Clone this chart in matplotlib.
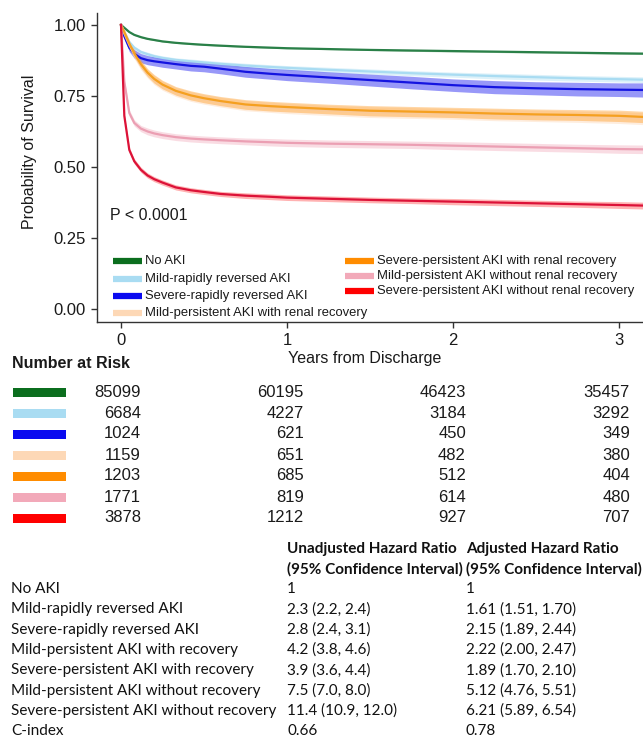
import matplotlib
matplotlib.use('Agg')
import matplotlib.pyplot as plt
from matplotlib.lines import Line2D
from matplotlib.patches import Rectangle

plt.rcParams['font.family'] = ['Liberation Sans', 'DejaVu Sans']

# ---------------- data ----------------
groups = ["No AKI", "Mild-rapidly reversed AKI", "Severe-rapidly reversed AKI",
          "Mild-persistent AKI with renal recovery", "Severe-persistent AKI with renal recovery",
          "Mild-persistent AKI without renal recovery", "Severe-persistent AKI without renal recovery"]
colors = ["#0b6e1e", "#a9dcf2", "#0a0af0", "#fdd8b6", "#ff8c00", "#f2a9b9", "#ff0000"]
line_colors = ["#2a8048", "#a9dcf2", "#1414e0", "#f9c99a", "#f5a020", "#eb9fb3", "#dc1238"]

years = [0, 0.02, 0.05, 0.08, 0.12, 0.16, 0.2, 0.25, 0.33, 0.42, 0.5, 0.6, 0.75, 0.9,
         1.0, 1.25, 1.5, 1.75, 2.0, 2.25, 2.5, 2.75, 3.0, 3.15]

surv_no_aki = [1.0, 0.99, 0.975, 0.965, 0.957, 0.951, 0.947, 0.942, 0.937, 0.933, 0.930, 0.927,
               0.923, 0.920, 0.918, 0.915, 0.912, 0.910, 0.908, 0.906, 0.904, 0.902, 0.900, 0.899]
surv_mild_rapid = [1.0, 0.975, 0.940, 0.920, 0.905, 0.897, 0.890, 0.884, 0.877, 0.872, 0.868, 0.863,
                   0.857, 0.852, 0.849, 0.842, 0.836, 0.830, 0.825, 0.820, 0.816, 0.812, 0.809, 0.807]
surv_severe_rapid = [1.0, 0.960, 0.920, 0.898, 0.883, 0.876, 0.872, 0.868, 0.862, 0.856, 0.853, 0.846,
                     0.835, 0.828, 0.824, 0.815, 0.806, 0.797, 0.788, 0.781, 0.777, 0.774, 0.772, 0.771]
surv_mild_pers_rec = [1.0, 0.970, 0.930, 0.895, 0.857, 0.828, 0.806, 0.786, 0.764, 0.748, 0.738, 0.728,
                      0.716, 0.710, 0.706, 0.699, 0.693, 0.690, 0.687, 0.683, 0.680, 0.677, 0.674, 0.670]
surv_severe_pers_rec = [1.0, 0.975, 0.935, 0.900, 0.862, 0.832, 0.810, 0.790, 0.768, 0.752, 0.742, 0.732,
                        0.720, 0.714, 0.711, 0.704, 0.698, 0.695, 0.692, 0.688, 0.685, 0.683, 0.680, 0.676]
surv_mild_pers_norec = [1.0, 0.800, 0.690, 0.655, 0.635, 0.625, 0.618, 0.612, 0.605, 0.600, 0.597, 0.594,
                        0.590, 0.587, 0.585, 0.582, 0.580, 0.578, 0.575, 0.572, 0.569, 0.566, 0.563, 0.562]
surv_severe_pers_norec = [1.0, 0.680, 0.560, 0.520, 0.490, 0.470, 0.457, 0.445, 0.428, 0.418, 0.412, 0.405,
                          0.399, 0.395, 0.392, 0.388, 0.384, 0.381, 0.378, 0.375, 0.372, 0.369, 0.366, 0.364]

ci_no_aki = [0.0, 0.001, 0.002, 0.002, 0.002, 0.002, 0.002, 0.002, 0.002, 0.002, 0.002, 0.002,
             0.002, 0.002, 0.002, 0.002, 0.002, 0.003, 0.003, 0.003, 0.003, 0.003, 0.003, 0.003]
ci_mild_rapid = [0.0, 0.004, 0.005, 0.006, 0.006, 0.007, 0.007, 0.007, 0.007, 0.008, 0.008, 0.008,
                 0.008, 0.008, 0.008, 0.009, 0.009, 0.009, 0.009, 0.010, 0.010, 0.010, 0.010, 0.010]
ci_severe_rapid = [0.0, 0.010, 0.014, 0.015, 0.016, 0.016, 0.016, 0.017, 0.017, 0.018, 0.018, 0.018,
                   0.019, 0.019, 0.020, 0.020, 0.021, 0.022, 0.022, 0.023, 0.023, 0.024, 0.024, 0.025]
ci_mild_pers_rec = [0.0, 0.008, 0.012, 0.014, 0.015, 0.015, 0.016, 0.016, 0.016, 0.017, 0.017, 0.017,
                    0.018, 0.018, 0.018, 0.018, 0.019, 0.019, 0.019, 0.020, 0.020, 0.020, 0.021, 0.021]
ci_severe_pers_rec = [0.0, 0.008, 0.011, 0.013, 0.014, 0.014, 0.015, 0.015, 0.015, 0.016, 0.016, 0.016,
                      0.017, 0.017, 0.017, 0.017, 0.018, 0.018, 0.018, 0.019, 0.019, 0.019, 0.020, 0.020]
ci_mild_pers_norec = [0.0, 0.010, 0.011, 0.011, 0.011, 0.012, 0.012, 0.012, 0.012, 0.012, 0.012, 0.012,
                      0.012, 0.013, 0.013, 0.013, 0.013, 0.013, 0.014, 0.014, 0.014, 0.014, 0.015, 0.015]
ci_severe_pers_norec = [0.0, 0.008, 0.009, 0.009, 0.009, 0.009, 0.009, 0.009, 0.009, 0.009, 0.009, 0.009,
                        0.010, 0.010, 0.010, 0.010, 0.010, 0.010, 0.011, 0.011, 0.011, 0.011, 0.012, 0.012]

survival = [surv_no_aki, surv_mild_rapid, surv_severe_rapid, surv_mild_pers_rec,
            surv_severe_pers_rec, surv_mild_pers_norec, surv_severe_pers_norec]
ci_half = [ci_no_aki, ci_mild_rapid, ci_severe_rapid, ci_mild_pers_rec,
           ci_severe_pers_rec, ci_mild_pers_norec, ci_severe_pers_norec]
band_alpha = [0.35, 0.4, 0.42, 0.45, 0.35, 0.4, 0.3]

risk_times = ["0", "1", "2", "3"]
risk_no_aki = [85099, 60195, 46423, 35457]
risk_mild_rapid = [6684, 4227, 3184, 3292]
risk_severe_rapid = [1024, 621, 450, 349]
risk_mild_pers_rec = [1159, 651, 482, 380]
risk_severe_pers_rec = [1203, 685, 512, 404]
risk_mild_pers_norec = [1771, 819, 614, 480]
risk_severe_pers_norec = [3878, 1212, 927, 707]
risk_table = [risk_no_aki, risk_mild_rapid, risk_severe_rapid, risk_mild_pers_rec,
              risk_severe_pers_rec, risk_mild_pers_norec, risk_severe_pers_norec]

hr_rows = ["No AKI", "Mild-rapidly reversed AKI", "Severe-rapidly reversed AKI",
           "Mild-persistent AKI with recovery", "Severe-persistent AKI with recovery",
           "Mild-persistent AKI without recovery", "Severe-persistent AKI without recovery", "C-index"]
hr_unadjusted = ["1", "2.3 (2.2, 2.4)", "2.8 (2.4, 3.1)", "4.2 (3.8, 4.6)", "3.9 (3.6, 4.4)",
                 "7.5 (7.0, 8.0)", "11.4 (10.9, 12.0)", "0.66"]
hr_adjusted = ["1", "1.61 (1.51, 1.70)", "2.15 (1.89, 2.44)", "2.22 (2.00, 2.47)", "1.89 (1.70, 2.10)",
               "5.12 (4.76, 5.51)", "6.21 (5.89, 6.54)", "0.78"]
hr_headers = [("Unadjusted Hazard Ratio", "(95% Confidence Interval)"),
              ("Adjusted Hazard Ratio", "(95% Confidence Interval)")]

# ---------------- figure ----------------
W, H = 643, 738
fig = plt.figure(figsize=(W / 100, H / 100), dpi=100)


def fx(px):
    return px / W


def fy(py):
    return 1 - py / H


ax = fig.add_axes([fx(97), fy(322), (W - 97) / W, (322 - 13) / H])
ax.set_xlim(-0.1446, 3.145)
ax.set_ylim(-0.0458, 1.042)

draw_order = [0, 1, 2, 3, 4, 5, 6]
for i in draw_order:
    s = survival[i]
    c = ci_half[i]
    lo = [a - b for a, b in zip(s, c)]
    hi = [a + b for a, b in zip(s, c)]
    ax.fill_between(years, lo, hi, color=colors[i], alpha=band_alpha[i], lw=0, zorder=1 + i * 0.1)
for i in draw_order:
    ax.plot(years, survival[i], color=line_colors[i], lw=1.6, zorder=3 + i * 0.1)

ax.set_xticks([0, 1, 2, 3])
ax.set_xticklabels(risk_times)
ax.set_yticks([0, 0.25, 0.5, 0.75, 1.0])
ax.set_yticklabels(["0.00", "0.25", "0.50", "0.75", "1.00"])
for sp in ["top", "right"]:
    ax.spines[sp].set_visible(False)
for sp in ["left", "bottom"]:
    ax.spines[sp].set_color("#333333")
    ax.spines[sp].set_linewidth(1.0)
ax.tick_params(axis="both", colors="#333333", length=4, width=1, labelsize=12,
               labelcolor="#1a1a1a", pad=4)

fig.text(fx(30), fy(152), "Probability of Survival", rotation=90, ha="center", va="center",
         fontsize=11.5, color="#1a1a1a")
fig.text(fx(365), fy(359), "Years from Discharge", ha="center", va="center", fontsize=11.5,
         color="#1a1a1a")
fig.text(fx(110), fy(215), "P < 0.0001", ha="left", va="center", fontsize=11.5, color="#1a1a1a")

# legend (manual, two columns)
leg_pos = [(113, 261), (113, 279), (113, 296), (113, 313), (345, 261), (345, 276), (345, 291)]
for i, (lx, ly) in enumerate(leg_pos):
    fig.add_artist(Line2D([fx(lx), fx(lx + 29)], [fy(ly), fy(ly)], color=colors[i], lw=4.5,
                          solid_capstyle="butt"))
    fig.text(fx(lx + 32), fy(ly), groups[i], ha="left", va="center", fontsize=9.4, color="#1a1a1a")

# number at risk
fig.text(fx(12), fy(363), "Number at Risk", ha="left", va="center", fontsize=11.5,
         fontweight="bold", color="#1a1a1a")
row_y = [393, 413, 434, 455, 476, 497, 518]
col_right = [141, 304, 466, 630]
for i, ry in enumerate(row_y):
    fig.add_artist(Rectangle((fx(13), fy(ry + 4.5)), (66 - 13) / W, 9 / H, color=colors[i], lw=0))
    for j, cx in enumerate(col_right):
        fig.text(fx(cx), fy(ry), str(risk_table[i][j]), ha="right", va="center", fontsize=12,
                 color="#1a1a1a")

# hazard ratio table
tfam = ["Lato", "DejaVu Sans"]
hdr_y = [549, 569]
col_x = [287, 466]
for k, (l1, l2) in enumerate(hr_headers):
    fig.text(fx(col_x[k]), fy(hdr_y[0]), l1, ha="left", va="center", fontsize=11,
             fontweight="bold", family=tfam, color="#111111")
    fig.text(fx(col_x[k]), fy(hdr_y[1]), l2, ha="left", va="center", fontsize=11,
             fontweight="bold", family=tfam, color="#111111")
for r, name in enumerate(hr_rows):
    yy = 589 + r * 20.3
    fig.text(fx(11), fy(yy), name, ha="left", va="center", fontsize=11, family=tfam, color="#111111")
    fig.text(fx(col_x[0]), fy(yy), hr_unadjusted[r], ha="left", va="center", fontsize=11,
             family=tfam, color="#111111")
    fig.text(fx(col_x[1]), fy(yy), hr_adjusted[r], ha="left", va="center", fontsize=11,
             family=tfam, color="#111111")

fig.savefig("out.png", dpi=100)
